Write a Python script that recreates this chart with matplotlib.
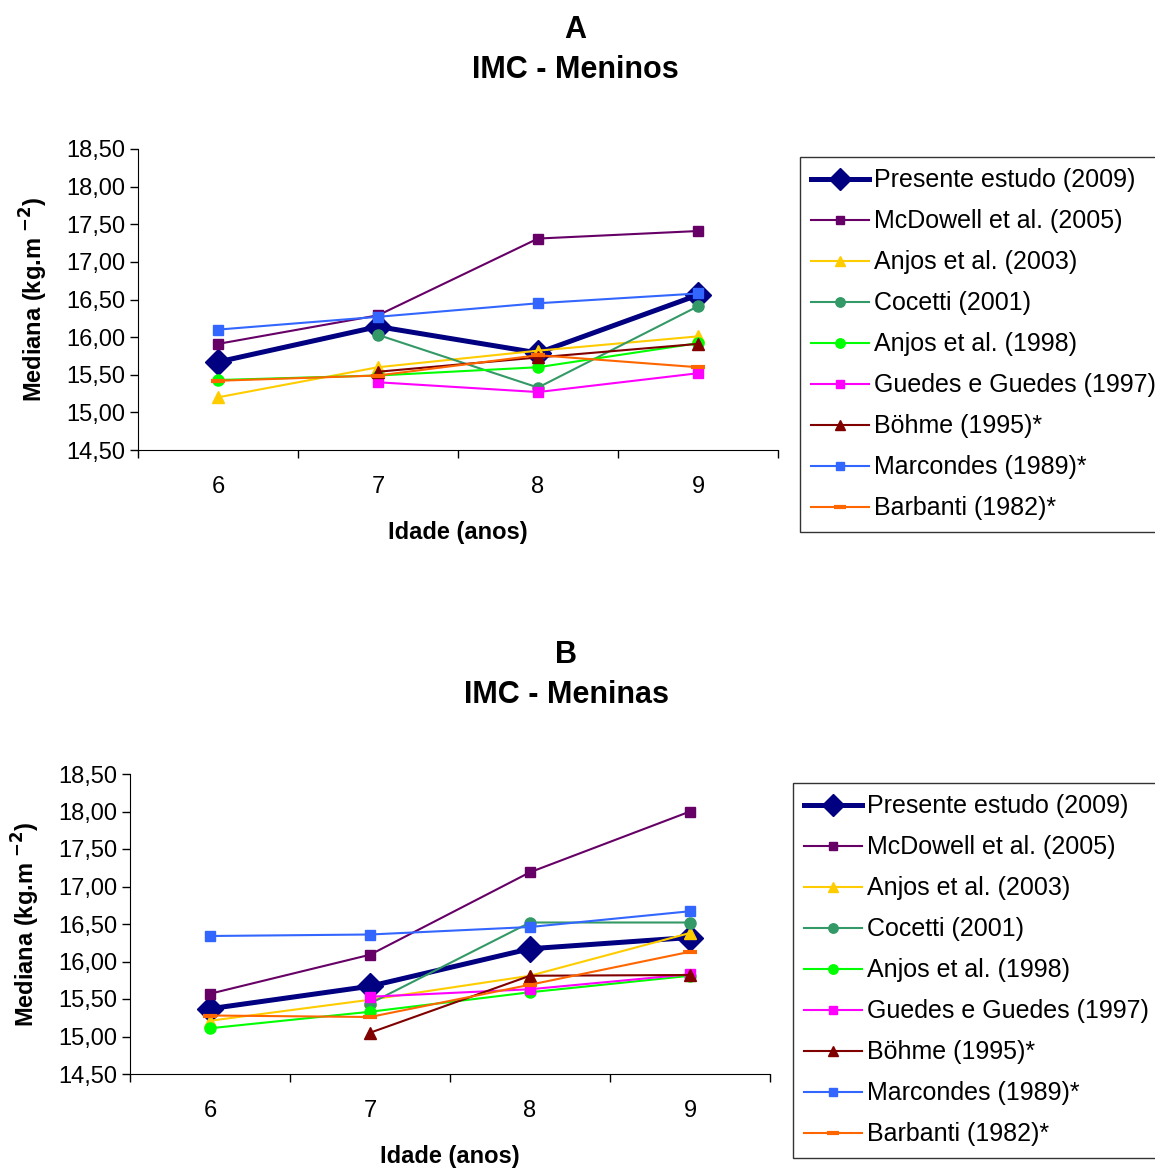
"""IMC (BMI) median by age: boys (A) and girls (B), compared with reference studies."""
import matplotlib
matplotlib.use("Agg")
import matplotlib.pyplot as plt
import matplotlib.ticker as mticker

plt.rcParams["font.family"] = ["Liberation Sans", "DejaVu Sans"]

AGES = [6, 7, 8, 9]

# panel A: meninos
BOYS_PRESENTE = [15.67, 16.14, 15.79, 16.56]
BOYS_MCDOWELL = [15.91, 16.29, 17.31, 17.41]
BOYS_ANJOS03 = [15.20, 15.60, 15.82, 16.01]
BOYS_COCETTI = [None, 16.03, 15.33, 16.41]
BOYS_ANJOS98 = [15.43, 15.49, 15.60, 15.92]
BOYS_GUEDES = [None, 15.40, 15.27, 15.52]
BOYS_BOHME = [None, 15.54, 15.73, 15.91]
BOYS_MARCONDES = [16.10, 16.27, 16.45, 16.58]
BOYS_BARBANTI = [15.42, 15.49, 15.76, 15.60]

# panel B: meninas
GIRLS_PRESENTE = [15.37, 15.67, 16.17, 16.32]
GIRLS_MCDOWELL = [15.57, 16.09, 17.19, 18.00]
GIRLS_ANJOS03 = [15.21, 15.49, 15.81, 16.38]
GIRLS_COCETTI = [None, 15.44, 16.52, 16.52]
GIRLS_ANJOS98 = [15.11, 15.33, 15.59, 15.81]
GIRLS_GUEDES = [None, 15.53, 15.63, 15.83]
GIRLS_BOHME = [None, 15.05, 15.81, 15.82]
GIRLS_MARCONDES = [16.34, 16.36, 16.46, 16.67]
GIRLS_BARBANTI = [15.28, 15.26, 15.69, 16.13]

LABELS = [
    "Presente estudo (2009)",
    "McDowell et al. (2005)",
    "Anjos et al. (2003)",
    "Cocetti (2001)",
    "Anjos et al. (1998)",
    "Guedes e Guedes (1997)",
    "Böhme (1995)*",
    "Marcondes (1989)*",
    "Barbanti (1982)*",
]

# color, marker, marker size, line width
STYLES = [
    ("#000080", "D", 13, 3.6),
    ("#660066", "s", 7, 1.5),
    ("#FFCC00", "^", 9, 1.5),
    ("#339966", "o", 8, 1.5),
    ("#00FF00", "o", 8, 1.5),
    ("#FF00FF", "s", 7, 1.5),
    ("#800000", "^", 9, 1.5),
    ("#3366FF", "s", 7, 1.5),
    ("#FF6600", "_", 10, 1.5),
]

W, H = 1155, 1170


def draw_panel(fig, rect, series, title_y, title, letter, legend_xy, title_x):
    ax = fig.add_axes(rect)
    for vals, label, (color, marker, ms, lw) in zip(series, LABELS, STYLES):
        xs = [a for a, v in zip(AGES, vals) if v is not None]
        ys = [v for v in vals if v is not None]
        ax.plot(xs, ys, color=color, marker=marker, markersize=ms, linewidth=lw,
                markeredgewidth=3 if marker == "_" else 1, markeredgecolor=color,
                label=label)
    ax.set_xlim(5.5, 9.5)
    ax.set_ylim(14.5, 18.5)
    ax.set_yticks([14.5 + 0.5 * i for i in range(9)])
    ax.yaxis.set_major_formatter(mticker.FuncFormatter(lambda v, p: f"{v:.2f}".replace(".", ",")))
    ax.set_xticks([5.5, 6.5, 7.5, 8.5, 9.5])
    ax.set_xticklabels([])
    ax.set_xticks(AGES, minor=True)
    ax.set_xticklabels([str(a) for a in AGES], minor=True)
    ax.tick_params(axis="x", which="minor", length=0, labelsize=17, pad=19)
    ax.tick_params(axis="x", which="major", length=6, direction="out", width=1)
    ax.tick_params(axis="y", length=6, direction="out", width=1, labelsize=17, pad=3)
    for s in ("top", "right"):
        ax.spines[s].set_visible(False)
    ax.set_xlabel("Idade (anos)", fontsize=17, fontweight="bold", labelpad=16)
    ax.set_ylabel(r"Mediana (kg.m $^{\mathbf{-2}}$)", fontsize=17, fontweight="bold", labelpad=12)
    fig.text(title_x / W, 1 - title_y / H, letter, ha="center", va="center",
             fontsize=22, fontweight="bold")
    fig.text(title_x / W, 1 - (title_y + 40) / H, title, ha="center", va="center",
             fontsize=22, fontweight="bold")
    leg = ax.legend(loc="upper left", bbox_to_anchor=(legend_xy[0] / W, 1 - legend_xy[1] / H),
                    bbox_transform=fig.transFigure, fontsize=18, frameon=True,
                    fancybox=False, edgecolor="black", handlelength=2.3, handletextpad=0.2,
                    labelspacing=0.68, borderpad=0.45, borderaxespad=0, markerscale=0.85)
    leg.get_frame().set_linewidth(1.0)
    return ax


fig = plt.figure(figsize=(W / 100, H / 100), dpi=100)

draw_panel(fig, [138 / W, 1 - 450 / H, 640 / W, 301 / H],
           [BOYS_PRESENTE, BOYS_MCDOWELL, BOYS_ANJOS03, BOYS_COCETTI, BOYS_ANJOS98,
            BOYS_GUEDES, BOYS_BOHME, BOYS_MARCONDES, BOYS_BARBANTI],
           30, "IMC - Meninos", "A", (800, 157), 575)

draw_panel(fig, [130 / W, 1 - 1074 / H, 640 / W, 300 / H],
           [GIRLS_PRESENTE, GIRLS_MCDOWELL, GIRLS_ANJOS03, GIRLS_COCETTI, GIRLS_ANJOS98,
            GIRLS_GUEDES, GIRLS_BOHME, GIRLS_MARCONDES, GIRLS_BARBANTI],
           655, "IMC - Meninas", "B", (793, 783), 566)

fig.savefig("out.png", dpi=100)
